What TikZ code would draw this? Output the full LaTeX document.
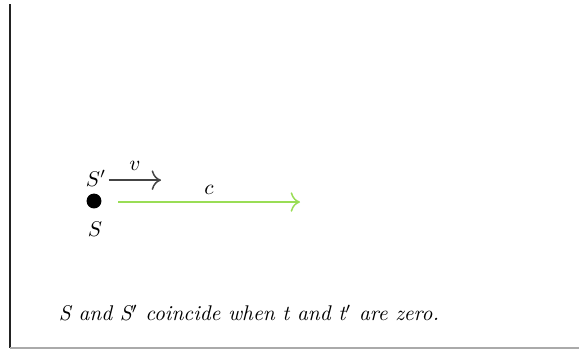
\documentclass[tikz,border=0pt]{standalone}
\usepackage{tikz}
\usetikzlibrary{positioning,calc,arrows.meta}
\definecolor{Frame}{HTML}{222222}
\definecolor{FrameLight}{HTML}{AAAAAA}
\definecolor{Light}{HTML}{99DD55}
\definecolor{Dark}{HTML}{444444}

\begin{document}
\begin{tikzpicture}[x=0.47pt,y=-0.47pt,
	>={To[scale=1.4]},
	lbl/.style={inner sep=1pt},
	vel/.style={->,draw=Dark,line width=0.7pt},
	ray/.style={->,draw=Light,line width=0.7pt}]
			\useasboundingbox (0,0) rectangle (579,350);
			% frame
			\draw[Frame,line width=1pt] (10,4) -- (10,348);
			\draw[FrameLight,line width=1pt] (10,348) -- (579,348);
			
			% observers
			\node[circle,fill=black,inner sep=0,minimum size=7pt] (S) at (94,201) {};
			\node[lbl] (Slab) at (95,229) {$S$};
			\node[lbl] (Sp) at (96,178) {$S'$};
			\coordinate (vend) at (161,180);
			\draw[vel] ([yshift=-1pt]Sp.east) -- ([yshift=-1pt]Sp.east -| vend) node[midway,above,lbl,yshift=3pt] {$v$};
			
			% light
			\coordinate (cstart) at (118,202);
			\coordinate (cend) at (300,202);
			\draw[ray] (cstart) -- (cend) node[midway,above,lbl,yshift=2pt] {$c$};
			
			\node[lbl] (note) at (249,313) {\textit{S and S$'$ coincide when t and t$'$ are zero.}};
		\end{tikzpicture}
\end{document}
